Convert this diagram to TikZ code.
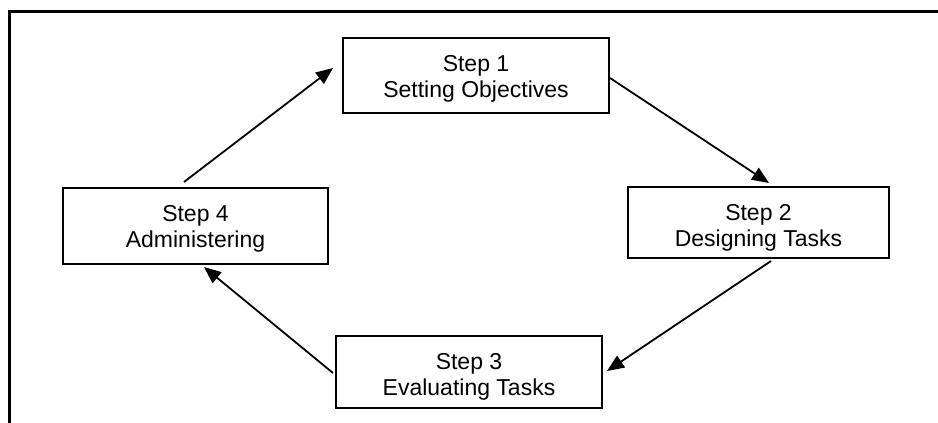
\documentclass[tikz,border=0pt]{standalone}
\usepackage{fontspec}
\setmainfont{Liberation Sans}
\usetikzlibrary{arrows.meta}

\begin{document}
\begin{tikzpicture}[
  x=1pt, y=-1pt,
  stepbox/.style={draw, line width=2pt, inner sep=0pt, anchor=north west,
                  font=\fontsize{23}{26.5}\selectfont, text height=33pt},
  arr/.style={-{Triangle[length=17pt, width=14pt]}, line width=1.8pt},
  frame/.style={line width=3pt}
]
\useasboundingbox (0,0) rectangle (938,423);

% outer frame, open at the right and the bottom
\draw[frame] (938,11) -- (9,11) -- (9,423);

\node[stepbox, minimum width=266pt, minimum height=75pt, text depth=42pt]
  (s1) at (342,37) {\begin{tabular}[t]{@{}c@{}}Step 1\\Setting Objectives\end{tabular}};
\node[stepbox, minimum width=261pt, minimum height=71pt, text depth=38pt]
  (s2) at (627,186) {\begin{tabular}[t]{@{}c@{}}Step 2\\Designing Tasks\end{tabular}};
\node[stepbox, minimum width=266pt, minimum height=72pt, text depth=39pt]
  (s3) at (335,335) {\begin{tabular}[t]{@{}c@{}}Step 3\\Evaluating Tasks\end{tabular}};
\node[stepbox, minimum width=265pt, minimum height=76pt, text depth=43pt]
  (s4) at (62,187) {\begin{tabular}[t]{@{}c@{}}Step 4\\Administering\end{tabular}};

\draw[arr] ([shift={(-11.5,-5)}]s4.north) -- ([shift={(-9,-7.5)}]s1.west);
\draw[arr] ([shift={(0,2.5)}]s1.east) -- ([shift={(10.5,-3)}]s2.north);
\draw[arr] ([shift={(12.5,2)}]s2.south) -- ([shift={(4,-1)}]s3.east);
\draw[arr] ([shift={(-2,1)}]s3.west) -- ([shift={(8.5,2)}]s4.south);
\end{tikzpicture}
\end{document}
